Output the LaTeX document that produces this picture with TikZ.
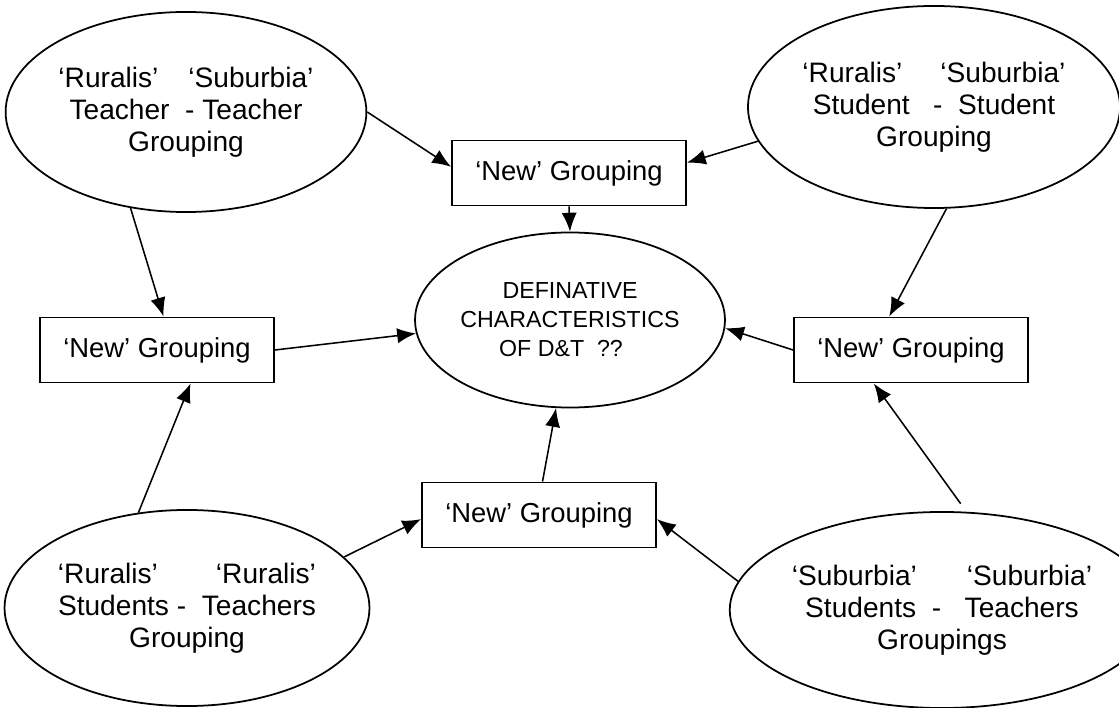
\documentclass[tikz,border=0pt]{standalone}
\usepackage{fontspec}
\setmainfont{Liberation Sans}
\usetikzlibrary{shapes.geometric,arrows.meta}
\begin{document}
\begin{tikzpicture}[x=0.025cm,y=-0.025cm,
  oval/.style={ellipse,draw,line width=1.25pt,inner sep=0pt,align=center,
    font=\fontsize{20}{22.8}\selectfont},
  core/.style={ellipse,draw,line width=1.25pt,inner sep=0pt,align=center,
    font=\fontsize{16.5}{20.6}\selectfont},
  grp/.style={rectangle,draw,line width=1.25pt,inner sep=0pt,
    minimum width=5.85cm,minimum height=1.63cm,font=\fontsize{19.5}{24}\selectfont},
  arr/.style={-{Latex[length=0.47cm,width=0.38cm]},line width=1.1pt}]
\fill[white] (0,0) rectangle (1119,708);
\useasboundingbox (0,0) rectangle (1119,708);

% ellipses
\node[oval,minimum width=8.95cm,minimum height=5cm] (tl) at (186,112)
  {‘Ruralis’\hspace{0.75cm}‘Suburbia’\\Teacher\ \ - Teacher\\Grouping};
\node[oval,minimum width=8.9cm,minimum height=5.05cm] (tr) at (934,107)
  {‘Ruralis’\hspace{0.95cm}‘Suburbia’\\Student\ \ \ -\ \ Student\\Grouping};
\node[oval,minimum width=8.85cm,minimum height=4.9cm] (bl) at (187,608)
  {‘Ruralis’\hspace{1.45cm}‘Ruralis’\\Students -\ \ Teachers\\Grouping};
\node[oval,minimum width=8.6cm,minimum height=4.9cm] (br) at (942,610)
  {‘Suburbia’\hspace{1.25cm}‘Suburbia’\\Students\ \ -\ \ \ Teachers\\Groupings};
\node[core,minimum width=7cm,minimum height=4.375cm] (c) at (570,320)
  {DEFINATIVE\\CHARACTERISTICS\\OF D\&T\ \ ??\hspace*{0.45cm}};

% boxes
\node[grp] (top) at (569,173) {‘New’ Grouping};
\node[grp] (lb) at (157,350) {‘New’ Grouping};
\node[grp] (rb) at (911,350) {‘New’ Grouping};
\node[grp] (bb) at (539,515) {‘New’ Grouping};

% connectors
\draw[arr] (tl.east) -- (top.177);
\draw[arr] (tr.191) -- (top.5);
\draw[arr] (top.south) -- (c.north);
\draw[arr] (tl.240) -- (lb.79);
\draw[arr] (lb.east) -- (c.185);
\draw[arr] (tr.277) -- (rb.123);
\draw[arr] (rb.west) -- (c.357);
\draw[arr] (bl.117) -- (lb.315);
\draw[arr] (bl.18) -- (bb.182);
\draw[arr] (bb.84) -- (c.261);
\draw[arr,shorten <=0.25cm] (br.76) -- (rb.222);
\draw[arr] (br.172) -- (bb.358);
\end{tikzpicture}
\end{document}
